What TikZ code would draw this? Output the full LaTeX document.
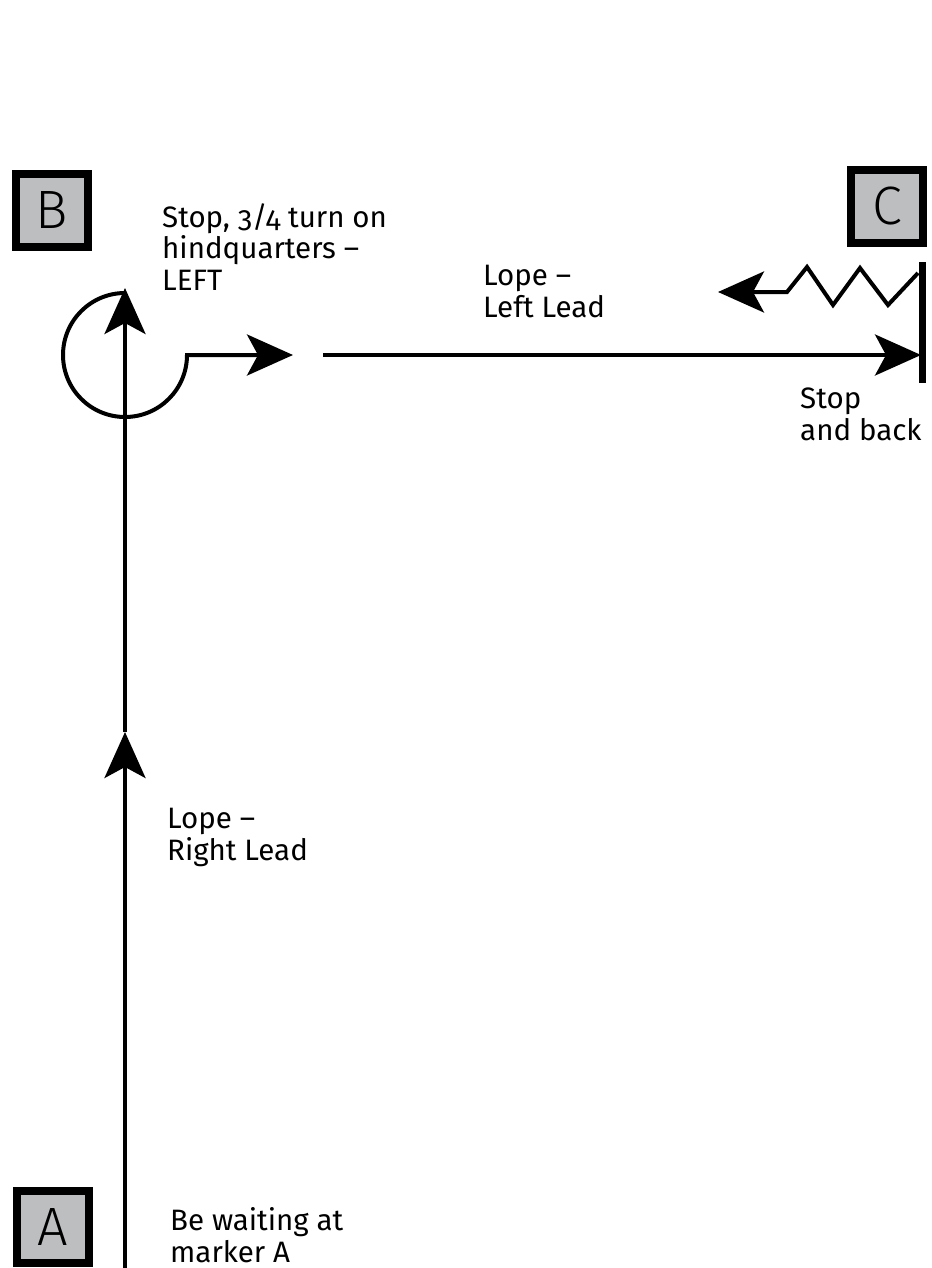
\documentclass[tikz,border=0pt]{standalone}
\usepackage{fontspec}
\setmainfont{Fira Sans}[Numbers=OldStyle]
\newfontfamily\markfont{Fira Sans Light}
\usetikzlibrary{arrows.meta}
\definecolor{markgray}{HTML}{BCBEC0}
\begin{document}
\begin{tikzpicture}[x=1pt,y=-1pt,
  marker/.style={draw=black,line width=8pt,fill=markgray,minimum size=72pt,inner sep=0pt,font=\markfont\fontsize{54}{60}\selectfont},
  label/.style={anchor=base west,align=left,inner sep=0pt,font=\fontsize{29.5}{31.5}\selectfont},
  path/.style={line width=4pt,draw=black},
  tip/.style={-{Stealth[length=46pt,width=41pt,inset=11pt]}}
]
\useasboundingbox (0,0) rectangle (931,1268);
% markers
\node[marker] (B) at (52,210.5) {B};
\node[marker] (C) at (887,206.5) {C};
\node[marker] (A) at (53,1226.5) {A};
% coordinates
\coordinate (start) at (125,1272);
\coordinate (mid) at (125,732);
\coordinate (top) at (125,288);
\coordinate (t1) at (293,355);
\coordinate (h1) at (323,355);
\coordinate (bar) at (921,355);
\coordinate (bartop) at (922,262);
\coordinate (barbot) at (922,383);
\coordinate (z0) at (918,273);
\coordinate (z1) at (888,305);
\coordinate (z2) at (860,268);
\coordinate (z3) at (833,305);
\coordinate (z4) at (807,267);
\coordinate (z5) at (787,292);
\coordinate (zend) at (718,292);
% paths
\draw[path,tip] (start) -- (mid);
\draw[path,tip] (mid) -- (top);
\draw[path,tip] (125,293) arc[start angle=270,end angle=0,radius=62] -- (t1);
\draw[path,tip] (h1) -- (bar);
\draw[line width=7pt] (bartop) -- (barbot);
\draw[path,line join=miter,tip] (z0) -- (z1) -- (z2) -- (z3) -- (z4) -- (z5) -- (zend);
% labels
\node[label] (l1) at (162,290) {Stop, 3/4 turn on\\hindquarters –\\LEFT};
\node[label] (l2) at (483,317) {Lope –\\Left Lead};
\node[label] (l3) at (800,440) {Stop\\and back};
\node[label] (l4) at (167,860) {Lope –\\Right Lead};
\node[label] (l5) at (170,1262) {Be waiting at\\marker A};
\end{tikzpicture}
\end{document}
